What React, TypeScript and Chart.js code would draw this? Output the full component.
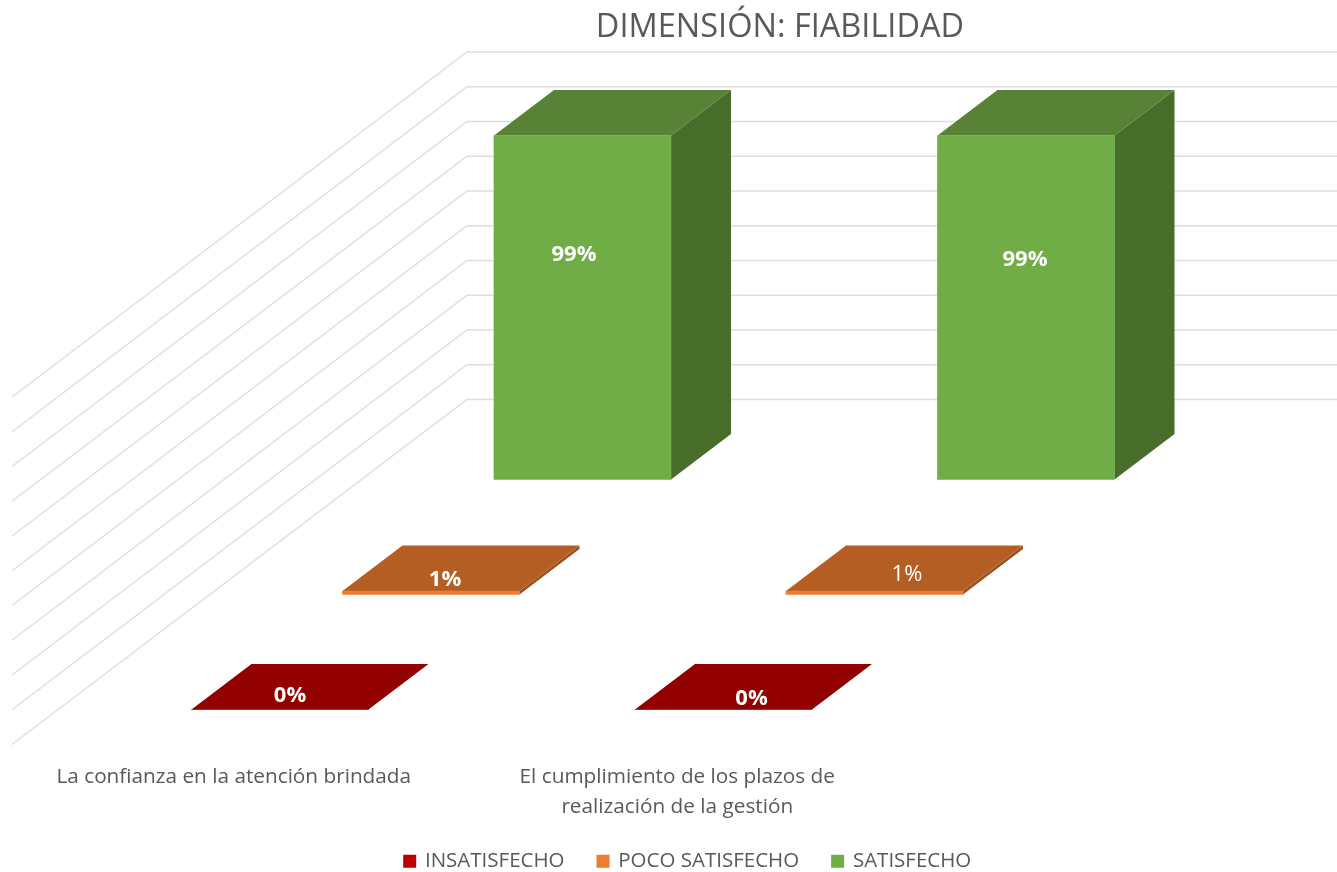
import React, { useEffect, useRef } from "react";
import { Chart, registerables } from "chart.js";

Chart.register(...registerables);

const categories = [
  "La confianza en la atención brindada",
  ["El cumplimiento de los plazos de", "realización de la gestión"],
];
const seriesNames = ["INSATISFECHO", "POCO SATISFECHO", "SATISFECHO"];
const insatisfecho = [0, 0];
const pocoSatisfecho = [1, 1];
const satisfecho = [99, 99];
const wallTicks = [0, 10, 20, 30, 40, 50, 60, 70, 80, 90, 100];

const FONT = '"Open Sans", sans-serif';
const TEXT = "#595959";

// 3D projection of each series row: how far the front face sits from the axis position.
const rowShift = [
  { dx: 46.25, dy: 310 },
  { dx: 197.25, dy: 195 },
  { dx: 348.75, dy: 80 },
];
const DEPTH_X = 60;
const DEPTH_Y = 45.5;
const faces = [
  { top: "#930000", side: "#7A0000" },
  { top: "#B55E23", side: "#9A5220" },
  { top: "#588235", side: "#486D2B" },
];
// Hand placement of the value labels relative to each front face's centre.
const labelStyle = [
  [
    { ox: 10, oy: -14, weight: "bold" },
    { ox: 28, oy: -11, weight: "bold" },
  ],
  [
    { ox: 14, oy: -13, weight: "bold" },
    { ox: 32.5, oy: -18, weight: "normal" },
  ],
  [
    { ox: -8.5, oy: -52.5, weight: "bold" },
    { ox: -1, oy: -47.5, weight: "bold" },
  ],
];

const wallPlugin = {
  id: "wall",
  beforeDatasetsDraw(chart: any) {
    const { ctx } = chart;
    const y = chart.scales.y;
    ctx.save();
    ctx.strokeStyle = "#DEDEDE";
    ctx.lineWidth = 1.4;
    for (const t of wallTicks) {
      const py = y.getPixelForValue(t);
      ctx.beginPath();
      ctx.moveTo(12, py + 345);
      ctx.lineTo(467, py);
      ctx.lineTo(1337, py);
      ctx.stroke();
    }
    ctx.restore();
  },
};

const barsPlugin = {
  id: "bars3d",
  afterLayout(chart: any) {
    chart.titleBlock.left += 324.5;
    chart.titleBlock.right += 324.5;
    chart.legend.left += 232.5;
    chart.legend.right += 232.5;
    const h = chart.legend.height;
    chart.legend.top = 817.5;
    chart.legend.bottom = 817.5 + h;
  },
  beforeDatasetDraw(chart: any, args: any) {
    const { ctx } = chart;
    const i = args.index;
    const { dx, dy } = rowShift[i];
    ctx.save();
    ctx.translate(dx, dy);
    for (const bar of args.meta.data) {
      const { x, y, base, width } = bar.getProps(["x", "y", "base", "width"], true);
      const l = x - width / 2;
      const r = x + width / 2;
      ctx.fillStyle = faces[i].side;
      ctx.beginPath();
      ctx.moveTo(r, y);
      ctx.lineTo(r + DEPTH_X, y - DEPTH_Y);
      ctx.lineTo(r + DEPTH_X, base - DEPTH_Y);
      ctx.lineTo(r, base);
      ctx.closePath();
      ctx.fill();
      ctx.fillStyle = faces[i].top;
      ctx.beginPath();
      ctx.moveTo(l, y);
      ctx.lineTo(l + DEPTH_X, y - DEPTH_Y);
      ctx.lineTo(r + DEPTH_X, y - DEPTH_Y);
      ctx.lineTo(r, y);
      ctx.closePath();
      ctx.fill();
    }
  },
  afterDatasetDraw(chart: any) {
    chart.ctx.restore();
  },
  afterDatasetsDraw(chart: any) {
    const { ctx } = chart;
    ctx.save();
    ctx.fillStyle = "#FFFFFF";
    ctx.textAlign = "center";
    ctx.textBaseline = "middle";
    chart.data.datasets.forEach((ds: any, i: number) => {
      chart.getDatasetMeta(i).data.forEach((bar: any, j: number) => {
        const { x, y, base } = bar.getProps(["x", "y", "base"], true);
        const s = labelStyle[i][j];
        ctx.font = `${s.weight} 22px ${FONT}`;
        ctx.fillText(
          `${ds.data[j]}%`,
          x + rowShift[i].dx + s.ox,
          (y + base) / 2 + rowShift[i].dy + s.oy
        );
      });
    });
    ctx.restore();
  },
};

export default function App() {
  const ref = useRef<HTMLCanvasElement>(null);
  useEffect(() => {
    const chart = new Chart(ref.current as HTMLCanvasElement, {
      type: "bar",
      data: {
        labels: categories as any,
        datasets: [
          { label: seriesNames[0], data: insatisfecho, backgroundColor: "#C00000" },
          { label: seriesNames[1], data: pocoSatisfecho, backgroundColor: "#ED7D31" },
          { label: seriesNames[2], data: satisfecho, backgroundColor: "#70AD47" },
        ].map((d) => ({ ...d, grouped: false, barThickness: 177, clip: false as any })),
      },
      options: {
        animation: false,
        responsive: false,
        layout: { padding: { left: 12, right: 438, top: 0, bottom: -23 } },
        scales: {
          x: {
            grid: { display: false },
            border: { display: false },
            ticks: {
              color: TEXT,
              font: { family: FONT, size: 20.75, lineHeight: 1.45 },
              maxRotation: 0,
              autoSkip: false,
              padding: 9,
            },
          },
          y: { display: false, min: -99.4, max: 100 },
        },
        plugins: {
          tooltip: { enabled: false },
          title: {
            display: true,
            text: "DIMENSIÓN: FIABILIDAD",
            color: TEXT,
            font: { family: FONT, size: 32.5, weight: "normal" },
            padding: { top: 8.5, bottom: 4.5 },
          },
          legend: {
            position: "bottom",
            labels: {
              color: TEXT,
              font: { family: FONT, size: 20.5 },
              boxWidth: 10,
              boxHeight: 10,
              padding: 33.5,
              generateLabels: (chart: any) =>
                Chart.defaults.plugins.legend.labels
                  .generateLabels(chart)
                  .map((l: any) => ({ ...l, strokeStyle: l.fillStyle, lineWidth: 3 })),
            },
          },
        },
      },
      plugins: [wallPlugin, barsPlugin],
    } as any);
    return () => chart.destroy();
  }, []);
  return (
    <canvas
      ref={ref}
      width={1337}
      height={872}
      style={{ position: "absolute", left: 0, top: 0, width: 1337, height: 872 }}
    />
  );
}
